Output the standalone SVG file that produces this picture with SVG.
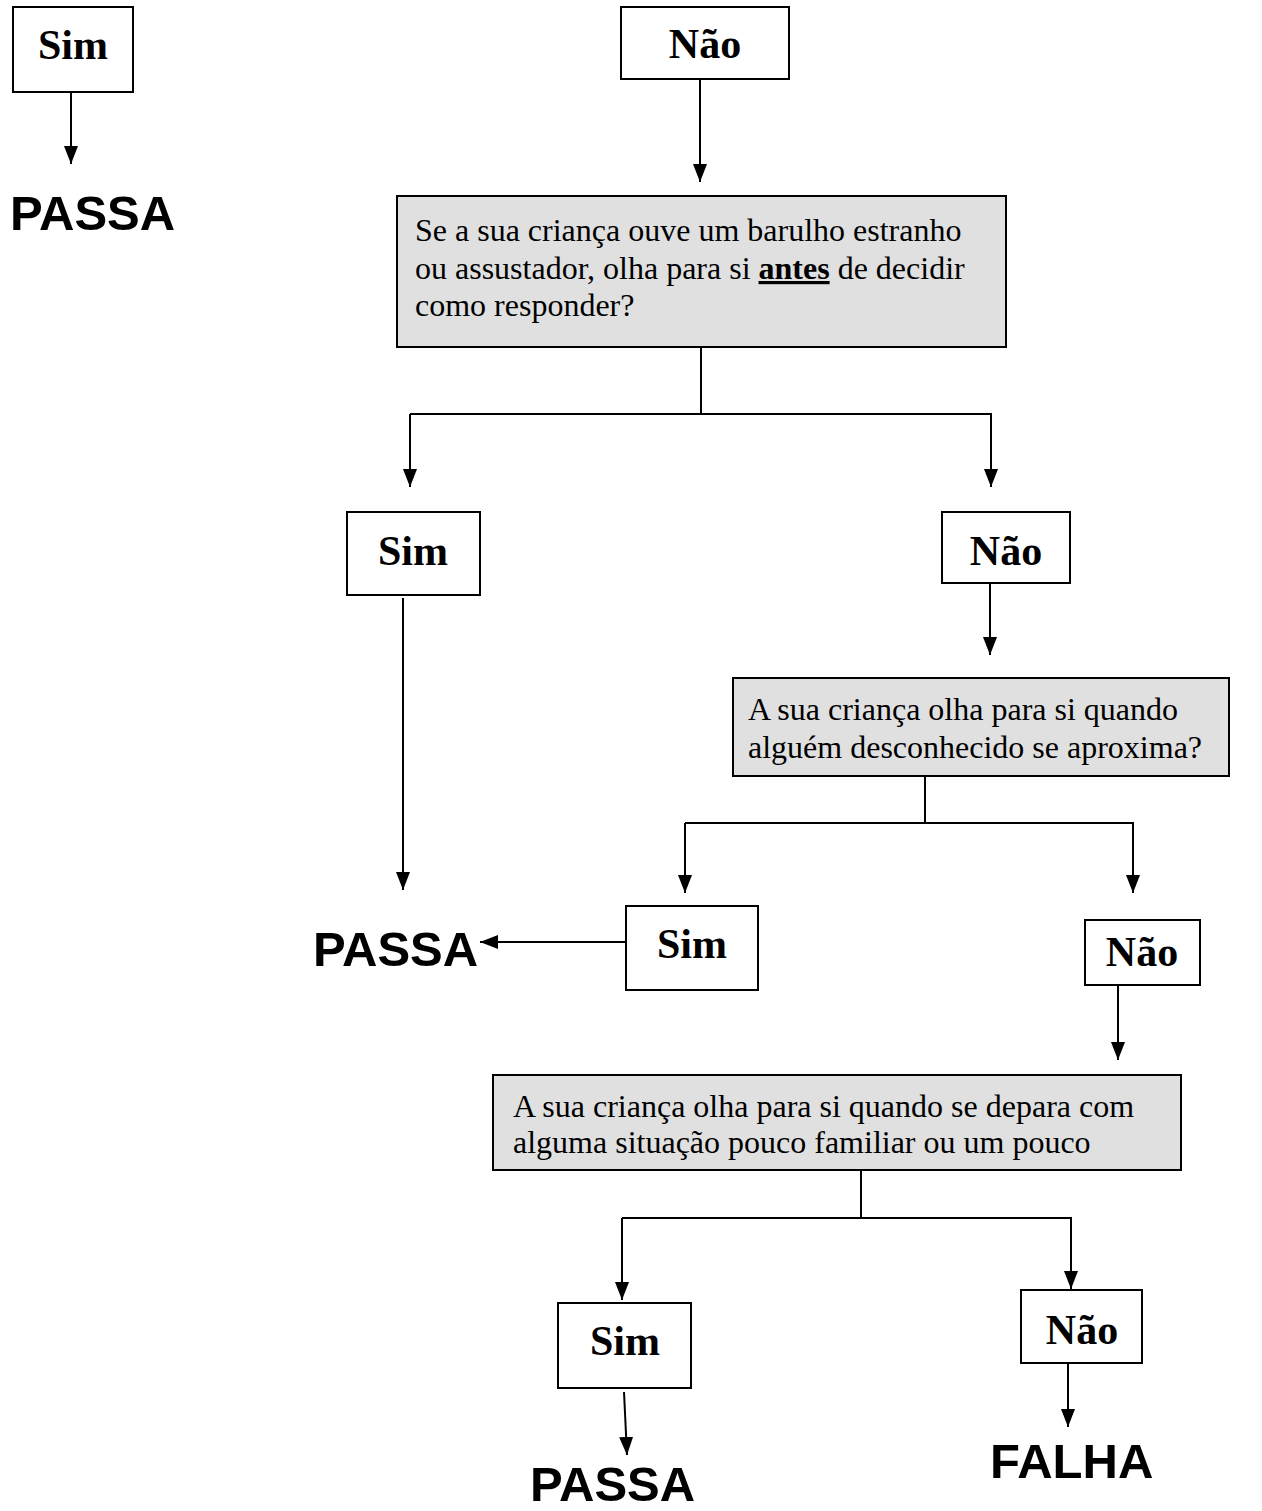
<svg xmlns="http://www.w3.org/2000/svg" width="1262" height="1511" viewBox="0 0 1262 1511">
<style>
.box{fill:#fff;stroke:#000;stroke-width:2}
.q{fill:#e0e0e0;stroke:#000;stroke-width:2}
.lbl{font-family:"Liberation Serif","Times New Roman",serif;font-weight:bold;font-size:42px;text-anchor:middle;fill:#000}
.qt{font-family:"Liberation Serif","Times New Roman",serif;font-size:32px;fill:#000}
.res{font-family:"Liberation Sans",Arial,sans-serif;font-weight:bold;font-size:49px;fill:#000}
.c{fill:none;stroke:#000;stroke-width:2}
.a{fill:none;stroke:#000;stroke-width:2;marker-end:url(#arr)}
</style>
<defs>
<marker id="arr" markerUnits="userSpaceOnUse" markerWidth="18" markerHeight="14" refX="18" refY="7" orient="auto">
<path d="M0,0 L18,7 L0,14 z" fill="#000"/>
</marker>
</defs>
<rect width="1262" height="1511" fill="#fff"/>
<g id="connectors">
<line class="a" x1="71" y1="92" x2="71" y2="164"/>
<line class="a" x1="700" y1="79" x2="700" y2="182"/>
<polyline class="c" points="701,347 701,414"/>
<polyline class="a" points="410,414 410,487"/>
<polyline class="a" points="410,414 991,414 991,487"/>
<line class="a" x1="403" y1="598" x2="403" y2="890"/>
<line class="a" x1="990" y1="583" x2="990" y2="655"/>
<polyline class="c" points="925,776 925,823"/>
<polyline class="a" points="685,823 685,893"/>
<polyline class="a" points="685,823 1133,823 1133,893"/>
<line class="a" x1="626" y1="942" x2="480" y2="942"/>
<line class="a" x1="1118" y1="985" x2="1118" y2="1060"/>
<polyline class="c" points="861,1170 861,1218"/>
<polyline class="a" points="622,1218 622,1300"/>
<polyline class="a" points="622,1218 1071,1218 1071,1289"/>
<line class="a" x1="624" y1="1392" x2="627" y2="1455"/>
<line class="a" x1="1068" y1="1358" x2="1068" y2="1427"/>
</g>
<g id="sim1"><rect class="box" x="13" y="7" width="120" height="85"/><text class="lbl" x="73" y="59">Sim</text></g>
<g id="passa1"><text class="res" x="10" y="230">PASSA</text></g>
<g id="nao1"><rect class="box" x="621" y="7" width="168" height="72"/><text class="lbl" x="705" y="58">Não</text></g>
<g id="q1"><rect class="q" x="397" y="196" width="609" height="151"/>
<text class="qt" x="415" y="241">Se a sua criança ouve um barulho estranho</text>
<text class="qt" x="415" y="279">ou assustador, olha para si <tspan font-weight="bold" text-decoration="underline">antes</tspan> de decidir</text>
<text class="qt" x="415" y="316">como responder?</text></g>
<g id="sim2"><rect class="box" x="347" y="512" width="133" height="83"/><text class="lbl" x="413" y="565">Sim</text></g>
<g id="nao2"><rect class="box" x="942" y="512" width="128" height="71"/><text class="lbl" x="1006" y="565">Não</text></g>
<g id="q2"><rect class="q" x="733" y="678" width="496" height="98"/>
<text class="qt" x="748" y="720">A sua criança olha para si quando</text>
<text class="qt" x="748" y="758">alguém desconhecido se aproxima?</text></g>
<g id="passa2"><text class="res" x="313" y="966">PASSA</text></g>
<g id="sim3"><rect class="box" x="626" y="906" width="132" height="84"/><text class="lbl" x="692" y="958">Sim</text></g>
<g id="nao3"><rect class="box" x="1085" y="920" width="115" height="65"/><text class="lbl" x="1142" y="966">Não</text></g>
<g id="q3"><rect class="q" x="493" y="1075" width="688" height="95"/>
<text class="qt" x="513" y="1117">A sua criança olha para si quando se depara com</text>
<text class="qt" x="513" y="1153">alguma situação pouco familiar ou um pouco</text></g>
<g id="sim4"><rect class="box" x="558" y="1303" width="133" height="85"/><text class="lbl" x="625" y="1355">Sim</text></g>
<g id="nao4"><rect class="box" x="1021" y="1290" width="121" height="73"/><text class="lbl" x="1082" y="1344">Não</text></g>
<g id="passa3"><text class="res" x="530" y="1501">PASSA</text></g>
<g id="falha"><text class="res" x="990" y="1478">FALHA</text></g>
</svg>
